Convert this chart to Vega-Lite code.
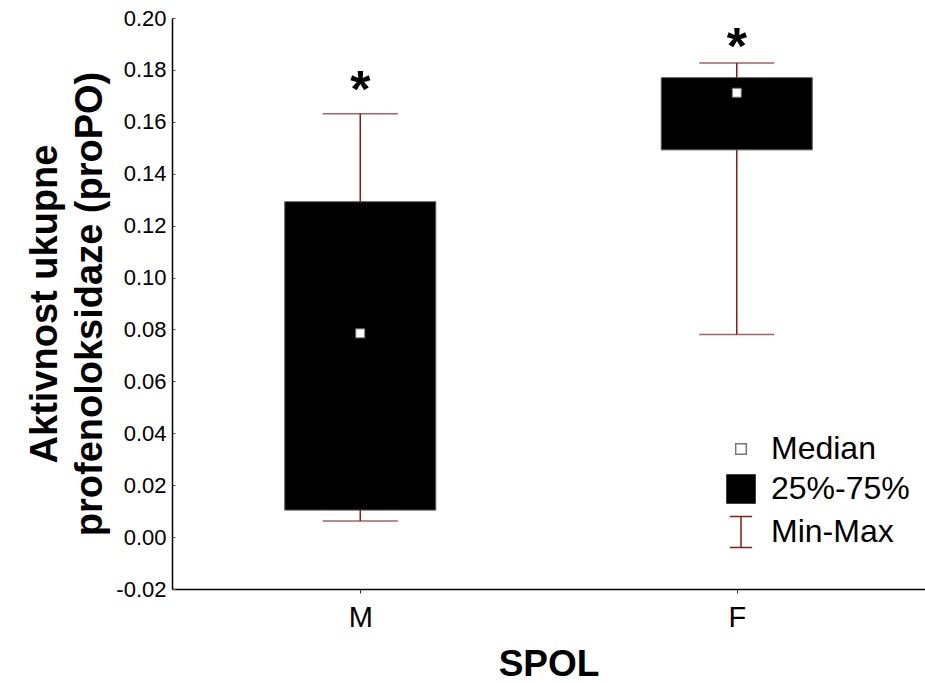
{
  "$schema": "https://vega.github.io/schema/vega-lite/v6.json",
  "width": 753,
  "height": 571,
  "autosize": {"type": "none"},
  "padding": {"left": 172, "top": 18, "right": 0, "bottom": 94},
  "background": "white",
  "config": {
    "view": {"stroke": null},
    "font": "Liberation Sans",
    "legend": {"padding": 0}
  },
  "data": {
    "values": [
      {"spol": "M", "min": 0.0062, "q1": 0.0104, "median": 0.0785, "q3": 0.1292, "max": 0.1631, "star": 0.1718, "item": "Median"},
      {"spol": "F", "min": 0.0781, "q1": 0.1492, "median": 0.1712, "q3": 0.177, "max": 0.1827, "star": 0.1885, "item": "Median"}
    ]
  },
  "encoding": {
    "x": {
      "field": "spol",
      "type": "nominal",
      "scale": {"type": "point", "domain": ["M", "F"], "padding": 0.5},
      "axis": {
        "title": "SPOL",
        "labelAngle": 0,
        "labelFontSize": 29,
        "labelColor": "black",
        "labelPadding": 10,
        "tickSize": 4,
        "tickColor": "#333",
        "domainColor": "black",
        "domainWidth": 1.5,
        "grid": false,
        "titleFontSize": 37,
        "titleFontWeight": "bold",
        "titleColor": "black",
        "titlePadding": 14
      }
    }
  },
  "layer": [
    {
      "mark": {"type": "rule", "color": "#8b1a1a", "strokeWidth": 1.5},
      "encoding": {
        "y": {
          "field": "min",
          "type": "quantitative",
          "scale": {"domain": [-0.02, 0.2], "nice": false, "zero": false},
          "axis": {
            "title": ["Aktivnost ukupne", "profenoloksidaze (proPO)"],
            "values": [-0.02, -0.01, 0, 0.01, 0.02, 0.03, 0.04, 0.05, 0.06, 0.07, 0.08, 0.09, 0.1, 0.11, 0.12, 0.13, 0.14, 0.15, 0.16, 0.17, 0.18, 0.19, 0.2],
            "labelExpr": "abs(round(datum.value*100)) % 2 == 0 ? replace(format(datum.value, '.2f'), '\u2212', '-') : ''",
            "tickSize": -3,
            "tickColor": "#555",
            "labelFontSize": 22,
            "labelColor": "black",
            "labelPadding": 9,
            "labelFlush": false,
            "labelOverlap": false,
            "domainColor": "black",
            "domainWidth": 1.5,
            "grid": false,
            "titleFontSize": 38,
            "titleFontWeight": "bold",
            "titleColor": "black",
            "titleLineHeight": 45,
            "titlePadding": 6
          }
        },
        "y2": {"field": "max"}
      }
    },
    {
      "mark": {"type": "tick", "color": "#8b1a1a", "size": 75, "thickness": 1.5},
      "encoding": {"y": {"field": "min", "type": "quantitative"}}
    },
    {
      "mark": {"type": "tick", "color": "#8b1a1a", "size": 75, "thickness": 1.5},
      "encoding": {"y": {"field": "max", "type": "quantitative"}}
    },
    {
      "mark": {"type": "bar", "fill": "black", "stroke": "#555", "strokeWidth": 1, "size": 151},
      "encoding": {
        "y": {"field": "q1", "type": "quantitative"},
        "y2": {"field": "q3"}
      }
    },
    {
      "mark": {"type": "point", "filled": true, "size": 557, "opacity": 1, "strokeWidth": 1},
      "encoding": {
        "y": {"field": "median", "type": "quantitative"},
        "shape": {
          "field": "item",
          "type": "nominal",
          "scale": {
            "domain": ["Median", "25%-75%", "Min-Max"],
            "range": ["M-0.38,-0.38H0.38V0.38H-0.38Z", "M-1,-1H1V1H-1Z", "M-0.8,-1.1H0.8M0,-1.1V1.1M-0.8,1.1H0.8"]
          },
          "legend": {
            "title": null,
            "orient": "none",
            "legendX": 553,
            "legendY": 415,
            "symbolSize": 784,
            "symbolStrokeWidth": 1.5,
            "symbolOpacity": 1,
            "labelFontSize": 32,
            "labelColor": "black",
            "labelOffset": 14,
            "rowPadding": 7,
            "labelLimit": 300
          }
        },
        "fill": {
          "field": "item",
          "type": "nominal",
          "scale": {"domain": ["Median", "25%-75%", "Min-Max"], "range": ["white", "black", "transparent"]}
        },
        "stroke": {
          "field": "item",
          "type": "nominal",
          "scale": {"domain": ["Median", "25%-75%", "Min-Max"], "range": ["#777777", "black", "#8b1a1a"]}
        }
      }
    },
    {
      "mark": {"type": "text", "text": "*", "fontSize": 52, "fontWeight": "bold", "color": "black", "baseline": "middle", "align": "center"},
      "encoding": {"y": {"field": "star", "type": "quantitative"}}
    }
  ]
}
